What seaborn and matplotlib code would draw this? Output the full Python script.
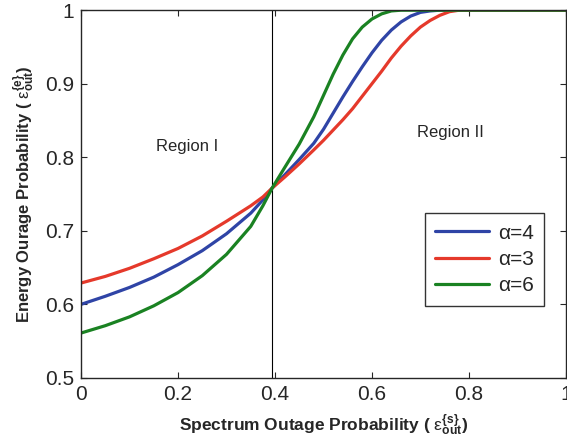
import pandas as pd
import matplotlib
matplotlib.use('Agg')
import matplotlib.pyplot as plt
import seaborn as sns

# values
x_vals = [0, 0.05, 0.1, 0.15, 0.2, 0.25, 0.3, 0.35, 0.375, 0.394, 0.42, 0.45, 0.48,
          0.5, 0.52, 0.54, 0.56, 0.58, 0.6, 0.62, 0.64, 0.66, 0.68, 0.7, 0.72,
          0.74, 0.76, 0.78, 0.8, 0.9, 1.0]
alpha4 = [0.600, 0.611, 0.623, 0.637, 0.654, 0.673, 0.696, 0.724, 0.742, 0.758,
          0.776, 0.797, 0.819, 0.838, 0.860, 0.882, 0.903, 0.923, 0.942, 0.959,
          0.973, 0.984, 0.992, 0.997, 0.999, 1.0, 1.0, 1.0, 1.0, 1.0, 1.0]
alpha3 = [0.629, 0.638, 0.649, 0.662, 0.676, 0.693, 0.713, 0.734, 0.746, 0.758,
          0.773, 0.791, 0.810, 0.823, 0.837, 0.851, 0.866, 0.883, 0.900, 0.917,
          0.935, 0.951, 0.965, 0.977, 0.986, 0.993, 0.998, 1.0, 1.0, 1.0, 1.0]
alpha6 = [0.561, 0.571, 0.583, 0.598, 0.616, 0.639, 0.668, 0.706, 0.734, 0.758,
          0.786, 0.818, 0.855, 0.884, 0.913, 0.939, 0.961, 0.977, 0.988, 0.995,
          0.999, 1.0, 1.0, 1.0, 1.0, 1.0, 1.0, 1.0, 1.0, 1.0, 1.0]
series_labels = ['α=4', 'α=3', 'α=6']
series_colors = ['#2f44a6', '#e5392b', '#1a8222']
x_cross = 0.394

frames = []
for lab, ys in zip(series_labels, [alpha4, alpha3, alpha6]):
    frames.append(pd.DataFrame({'x': x_vals, 'y': ys, 'series': lab}))
df = pd.concat(frames, ignore_index=True)

sns.set_style('ticks')
plt.rcParams['font.family'] = ['Liberation Sans', 'DejaVu Sans']
plt.rcParams['mathtext.fontset'] = 'custom'
plt.rcParams['mathtext.rm'] = 'Liberation Sans'
plt.rcParams['mathtext.it'] = 'Liberation Sans'
plt.rcParams['mathtext.bf'] = 'Liberation Sans:bold'

fig = plt.figure(figsize=(5.67, 4.43), dpi=100)
ax = fig.add_axes([0.143, 0.147, 0.855, 0.830])

sns.lineplot(data=df, x='x', y='y', hue='series', hue_order=series_labels,
             palette=series_colors, linewidth=2.3, ax=ax, sort=False)
ax.axvline(x_cross, color='black', lw=0.8, zorder=1)

ax.set_xlim(0, 1)
ax.set_ylim(0.5, 1)
ax.set_xticks([0, 0.2, 0.4, 0.6, 0.8, 1])
ax.set_xticklabels(['0', '0.2', '0.4', '0.6', '0.8', '1'])
ax.set_yticks([0.5, 0.6, 0.7, 0.8, 0.9, 1])
ax.set_yticklabels(['0.5', '0.6', '0.7', '0.8', '0.9', '1'])
ax.tick_params(direction='in', top=True, right=True, labelsize=15, length=4,
               width=0.8, pad=5)
for sp in ax.spines.values():
    sp.set_linewidth(1.0)

ax.set_xlabel(r'Spectrum Outage Probability ( $\mathrm{\varepsilon}_{\mathbf{out}}^{\mathbf{\{s\}}}$)',
              fontsize=12.5, fontweight='bold', labelpad=6)
ax.set_ylabel(r'Energy Ourage Probability ( $\mathrm{\varepsilon}_{\mathbf{out}}^{\mathbf{\{e\}}}$)',
              fontsize=12, fontweight='bold', labelpad=6)

ax.text(0.219, 0.814, 'Region I', ha='center', va='center', fontsize=12)
ax.text(0.761, 0.833, 'Region II', ha='center', va='center', fontsize=12)

leg = ax.legend(loc='upper left', bbox_to_anchor=(0.709, 0.448), fontsize=15,
                frameon=True, fancybox=False, edgecolor='black', handlelength=2.6,
                borderpad=0.5, labelspacing=0.35, handletextpad=0.4,
                borderaxespad=0)
leg.get_frame().set_linewidth(1.0)

plt.savefig('out.png', dpi=100)
plt.close()
